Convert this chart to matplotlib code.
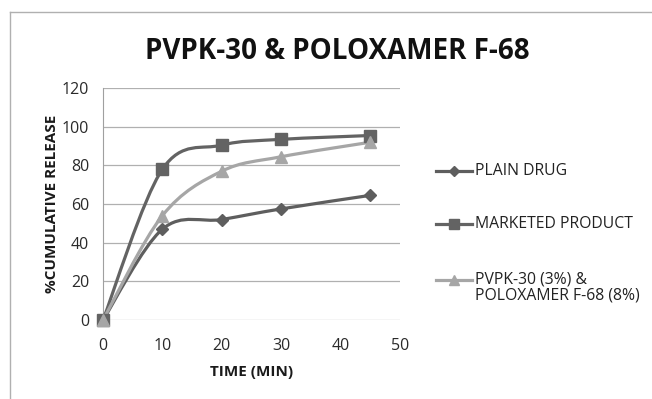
import matplotlib
matplotlib.use("Agg")
import matplotlib.pyplot as plt
from matplotlib.path import Path
from matplotlib.patches import PathPatch
from matplotlib.lines import Line2D
import numpy as np

time_min = [0, 10, 20, 30, 45]
plain_drug = [0, 47, 52, 57.5, 64.5]
marketed = [0, 78, 90.5, 93.5, 95.5]
pvpk_polox = [0, 54, 77, 84.5, 92]
labels = ["PLAIN DRUG", "MARKETED PRODUCT", "PVPK-30 (3%) &\nPOLOXAMER F-68 (8%)"]
colors = ["#5e5e5e", "#636363", "#a6a6a6"]
markers = ["D", "s", "^"]
msizes = [6.5, 8.5, 9]

plt.rcParams['font.family'] = ['Open Sans', 'DejaVu Sans']

fig = plt.figure(figsize=(6.52, 3.99), dpi=100)
ax = fig.add_axes([0.158, 0.198, 0.455, 0.581])

def smooth_path(xs, ys):
    pts = np.column_stack([xs, ys]).astype(float)
    n = len(pts)
    verts = [pts[0]]
    codes = [Path.MOVETO]
    for i in range(n - 1):
        p0 = pts[i - 1] if i > 0 else pts[i]
        p1 = pts[i]
        p2 = pts[i + 1]
        p3 = pts[i + 2] if i + 2 < n else pts[i + 1]
        c1 = p1 + (p2 - p0) / 6.0
        c2 = p2 - (p3 - p1) / 6.0
        verts += [c1, c2, p2]
        codes += [Path.CURVE4] * 3
    return Path(verts, codes)

series = [plain_drug, marketed, pvpk_polox]
for ys, c, m, ms, lab in zip(series, colors, markers, msizes, labels):
    patch = PathPatch(smooth_path(time_min, ys), facecolor='none', edgecolor=c, lw=2.3, zorder=3)
    ax.add_patch(patch)
    h, = ax.plot(time_min, ys, linestyle='none', color=c, marker=m, ms=ms,
                 markerfacecolor=c, markeredgecolor=c, zorder=4, label=lab)
    h.set_clip_on(False)

ax.set_xlim(0, 50)
ax.set_ylim(0, 120)
ax.set_xticks(range(0, 51, 10))
ax.set_yticks(range(0, 121, 20))
ax.grid(axis='y', color='#b0b0b0', lw=0.9)
ax.set_axisbelow(True)
for s in ['top', 'right', 'bottom']:
    ax.spines[s].set_visible(False)
ax.spines['left'].set_color('#a0a0a0')
ax.tick_params(axis='both', length=0, labelsize=11.5, colors='#2a2a2a')
ax.tick_params(axis='x', pad=13)
ax.tick_params(axis='y', pad=10)

ax.set_xlabel("TIME (MIN)", fontsize=11, fontweight='bold', color='#1a1a1a', va='center')
ax.xaxis.set_label_coords(0.5, -0.224)
ax.set_ylabel("%CUMULATIVE RELEASE", fontsize=11, fontweight='bold', color='#1a1a1a', va='center')
ax.yaxis.set_label_coords(-0.172, 0.5)

fig.text(0.517, 0.87, "PVPK-30 & POLOXAMER F-68", ha='center', va='center',
         fontsize=20, fontweight='bold', color='#111111')

# legend drawn manually to match layout
W, H = 652.0, 399.0
leg_y = [171, 224, 280]
for c, m, ms, lab, yy in zip(colors, markers, msizes, labels, leg_y):
    yf = 1 - yy / H
    fig.add_artist(Line2D([436 / W, 472 / W], [yf, yf], transform=fig.transFigure,
                          color=c, lw=2.3))
    fig.add_artist(Line2D([454 / W], [yf], transform=fig.transFigure, color=c,
                          marker=m, ms=ms * 0.8, markerfacecolor=c, markeredgecolor=c,
                          linestyle='none'))
    t = fig.text(475 / W, yf, lab, ha='left', va='center',
                 fontsize=11.3, color='#222222', linespacing=1.05,
                 transform=fig.transFigure)
    if '\n' in lab:
        t.set_va('top')
        t.set_y(1 - (280 - 9) / H)

# outer frame (top and left edges)
fig.add_artist(Line2D([0.015, 1.0], [0.97, 0.97], transform=fig.transFigure, color='#b0b0b0', lw=1))
fig.add_artist(Line2D([0.015, 0.015], [0.0, 0.97], transform=fig.transFigure, color='#b0b0b0', lw=1))

fig.savefig("out.png", dpi=100)
